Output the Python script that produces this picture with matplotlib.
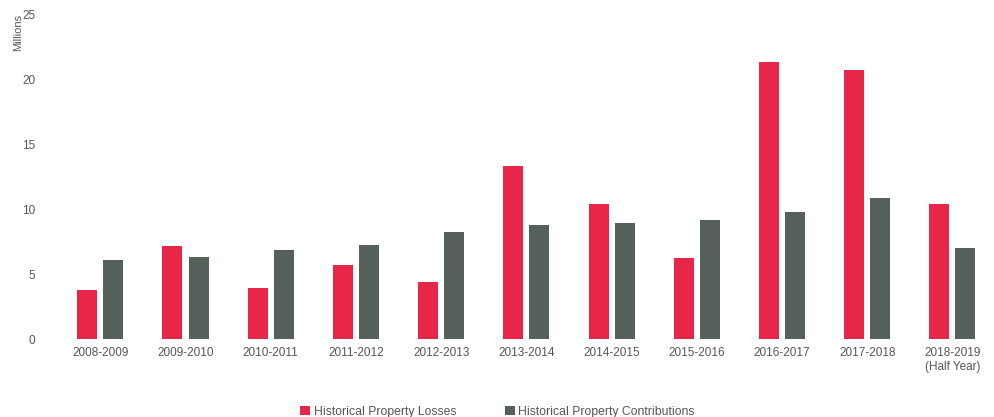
import matplotlib.pyplot as plt
import numpy as np

plt.rc('font', family='Liberation Sans')
plt.rcParams.update({'font.size': 8})

# historical figures, millions
years = ['2008-2009', '2009-2010', '2010-2011', '2011-2012', '2012-2013', '2013-2014',
         '2014-2015', '2015-2016', '2016-2017', '2017-2018', '2018-2019\n(Half Year)']
losses = [3.8, 7.15, 3.9, 5.7, 4.4, 13.3, 10.4, 6.2, 21.3, 20.7, 10.4]
contributions = [6.1, 6.3, 6.85, 7.2, 8.2, 8.75, 8.9, 9.15, 9.8, 10.85, 7.0]

red = '#E8264A'
grey = '#55605A'
txt = '#555555'

fig = plt.figure(figsize=(9.95, 4.17), dpi=100)
ax = fig.add_axes([0.058, 0.187, 0.942, 0.779])

a = np.arange(len(years))
w = 0.235
off = 0.153
ax.bar(a - off, losses, width=w, color=red, label='Historical Property Losses')
ax.bar(a + off, contributions, width=w, color=grey, label='Historical Property Contributions')

ax.set_xlim(-0.5, len(years) - 0.5)
ax.set_ylim(0, 25)
ax.set_yticks([0, 5, 10, 15, 20, 25])
ax.set_xticks(a)
ax.set_xticklabels(years, color=txt, fontsize=8.5)
ax.tick_params(axis='y', colors=txt, labelsize=8.5, length=0, pad=16)
ax.tick_params(axis='x', length=0, pad=6)
for s in ax.spines.values():
    s.set_visible(False)

fig.text(0.018, 0.966, 'Millions', rotation=90, ha='center', va='top', color=txt, fontsize=8)

fig.legend(loc='lower center', bbox_to_anchor=(0.5, -0.028), ncol=2, frameon=False,
           fontsize=8.8, handlelength=0.8, handleheight=0.8, columnspacing=4,
           handletextpad=0.3, labelcolor=txt)

fig.savefig('out.png')
